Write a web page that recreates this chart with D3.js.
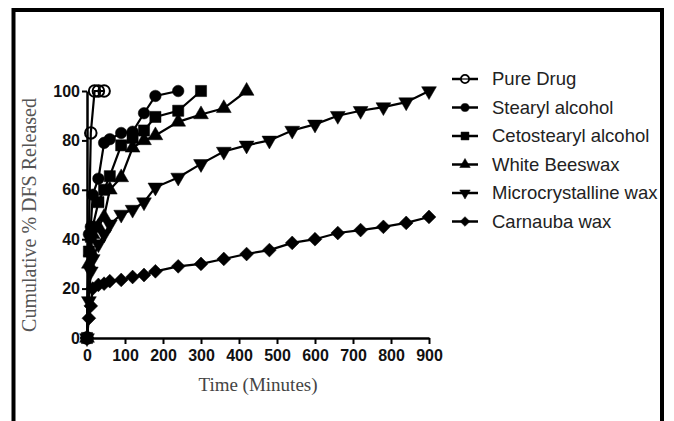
<!DOCTYPE html>
<html>
<head>
<meta charset="utf-8">
<script src="https://cdn.jsdelivr.net/npm/d3@7"></script>
<style>
  body { margin: 0; background: #fff; }
</style>
</head>
<body>
<div id="plot1"></div>
<script>
// data (time in minutes, % released)
var pureTimes = [0, 10, 20, 30, 45];
var pureDrug = [0, 83, 100, 100, 100];

var times = [0, 5, 10, 15, 30, 45, 60, 90, 120, 150, 180, 240, 300, 360, 420, 480, 540, 600, 660, 720, 780, 840, 900];
var stearyl = [0, 42, 45, 58, 64.5, 79, 80.5, 83, 83.5, 91, 98, 100];
var cetostearyl = [0, 35, 41, 45, 55, 60, 65.5, 78, 81, 84, 89.5, 92, 100];
var beeswax = [0, 30, 35, 42, 45, 49, 60, 65, 77, 80, 82, 87.5, 90.5, 93, 100];
var microWax = [0, 15, 27, 32, 38, 42, 46, 50, 52, 55, 61, 65, 70.5, 75.5, 78, 80, 84, 86.5, 90, 92, 93.5, 95.5, 100];
var carnauba = [0, 8, 13, 20, 21.5, 22, 23, 23.5, 24.7, 25.5, 27, 29, 30, 32, 34, 35.6, 38.5, 40, 42.5, 43.7, 45, 46.6, 49];

var xTicks = [0, 100, 200, 300, 400, 500, 600, 700, 800, 900];
var yTicks = [0, 20, 40, 60, 80, 100];

var seriesNames = ["Pure Drug", "Stearyl alcohol", "Cetostearyl alcohol", "White Beeswax", "Microcrystalline wax", "Carnauba wax"];
var seriesShapes = ["openCircle", "circle", "square", "triangle", "triangleDown", "diamond"];

var series = [
    {name: seriesNames[0], shape: seriesShapes[0], t: pureTimes, v: pureDrug},
    {name: seriesNames[1], shape: seriesShapes[1], t: times, v: stearyl},
    {name: seriesNames[2], shape: seriesShapes[2], t: times, v: cetostearyl},
    {name: seriesNames[3], shape: seriesShapes[3], t: times, v: beeswax},
    {name: seriesNames[4], shape: seriesShapes[4], t: times, v: microWax},
    {name: seriesNames[5], shape: seriesShapes[5], t: times, v: carnauba}
];

var W = 674, H = 421;
var margin = {top: 91, left: 87};
var width = 342, height = 247;

var svg = d3.select("#plot1")
    .append("svg")
    .attr("width", W)
    .attr("height", H);

// outer frame
svg.append("rect")
    .attr("x", 13.5)
    .attr("y", 10)
    .attr("width", 648.5)
    .attr("height", 440)
    .attr("fill", "none")
    .attr("stroke", "#000")
    .attr("stroke-width", 4);

var g = svg.append("g")
    .attr("transform", `translate(${margin.left}, ${margin.top})`);

var x = d3.scaleLinear().domain([0, 900]).range([0, width]);
var y = d3.scaleLinear().domain([0, 100]).range([height, 0]);

// symbol builder
function symbolPath(shape, k) {
    if (shape === "circle" || shape === "openCircle")
        return d3.symbol().type(d3.symbolCircle).size(105 * k)();
    if (shape === "square")
        return d3.symbol().type(d3.symbolSquare).size(125 * k)();
    if (shape === "triangle" || shape === "triangleDown")
        return d3.symbol().type(d3.symbolTriangle).size(95 * k)();
    return d3.symbol().type(d3.symbolSquare).size(95 * k)();
}
function symbolRotate(shape) {
    if (shape === "triangleDown") return 180;
    if (shape === "diamond") return 45;
    return 0;
}

// X axis
var xAxis = g.append("g")
    .attr("transform", `translate(0, ${height})`)
    .call(d3.axisBottom(x).tickValues(xTicks).tickSize(6).tickSizeOuter(0));
xAxis.select(".domain").attr("stroke-width", 2.5);
xAxis.selectAll(".tick line").attr("stroke-width", 2);
xAxis.selectAll("text")
    .attr("dy", "0.9em")
    .style("font-family", "'Liberation Sans', Arial, sans-serif")
    .style("font-weight", "bold")
    .style("font-size", "16px")
    .attr("fill", "#111");

// Y axis
var yAxis = g.append("g")
    .call(d3.axisLeft(y).tickValues(yTicks).tickSize(5).tickSizeOuter(0));
yAxis.select(".domain").attr("stroke-width", 2.5);
yAxis.selectAll(".tick line").attr("stroke-width", 2);
yAxis.selectAll("text")
    .attr("x", -7)
    .style("font-family", "'Liberation Sans', Arial, sans-serif")
    .style("font-weight", "bold")
    .style("font-size", "16px")
    .attr("fill", "#111");

// axis titles
svg.append("text")
    .attr("transform", `translate(36, 215) rotate(-90)`)
    .style("text-anchor", "middle")
    .style("font-family", "'Liberation Serif', 'Times New Roman', serif")
    .style("font-size", "20px")
    .attr("fill", "#555")
    .text("Cumulative % DFS Released");

svg.append("text")
    .attr("x", 258)
    .attr("y", 391)
    .style("text-anchor", "middle")
    .style("font-family", "'Liberation Serif', 'Times New Roman', serif")
    .style("font-size", "19px")
    .attr("fill", "#444")
    .text("Time (Minutes)");

// lines and markers
var line = d3.line()
    .x(d => x(d.t))
    .y(d => y(d.v));

series.slice().reverse().forEach(function(s) {
    var pts = s.v.map((v, i) => ({t: s.t[i], v: v}));
    g.append("path")
        .datum(pts)
        .attr("d", line)
        .attr("fill", "none")
        .attr("stroke", "#000")
        .attr("stroke-width", 2.2);

    g.append("g").selectAll("path")
        .data(pts)
        .enter()
        .append("path")
        .attr("d", symbolPath(s.shape, 1))
        .attr("transform", d => `translate(${x(d.t)}, ${y(d.v)}) rotate(${symbolRotate(s.shape)})`)
        .attr("fill", s.shape === "openCircle" ? "none" : "#000")
        .attr("stroke", "#000")
        .attr("stroke-width", s.shape === "openCircle" ? 2 : 0.5);
});

// legend
var legend = svg.append("g")
    .attr("transform", "translate(452, 79)");

var rows = legend.selectAll("g")
    .data(series)
    .enter()
    .append("g")
    .attr("transform", (d, i) => `translate(0, ${i * 28.5})`);

rows.append("line")
    .attr("x1", 0)
    .attr("x2", 26)
    .attr("y1", 0)
    .attr("y2", 0)
    .attr("stroke", "#000")
    .attr("stroke-width", 2.5);

rows.append("path")
    .attr("d", d => symbolPath(d.shape, 0.5))
    .attr("transform", d => `translate(13, 0) rotate(${symbolRotate(d.shape)})`)
    .attr("fill", d => d.shape === "openCircle" ? "#fff" : "#000")
    .attr("stroke", "#000")
    .attr("stroke-width", d => d.shape === "openCircle" ? 1.8 : 0.5);

rows.filter(d => d.shape === "openCircle")
    .append("line")
    .attr("x1", 9)
    .attr("x2", 17)
    .attr("stroke", "#000")
    .attr("stroke-width", 1.2);

rows.append("text")
    .attr("x", 40)
    .attr("y", 0)
    .attr("dy", "0.35em")
    .style("font-family", "'Liberation Sans', Arial, sans-serif")
    .style("font-size", "18.5px")
    .attr("fill", "#222")
    .text(d => d.name);
</script>
</body>
</html>
